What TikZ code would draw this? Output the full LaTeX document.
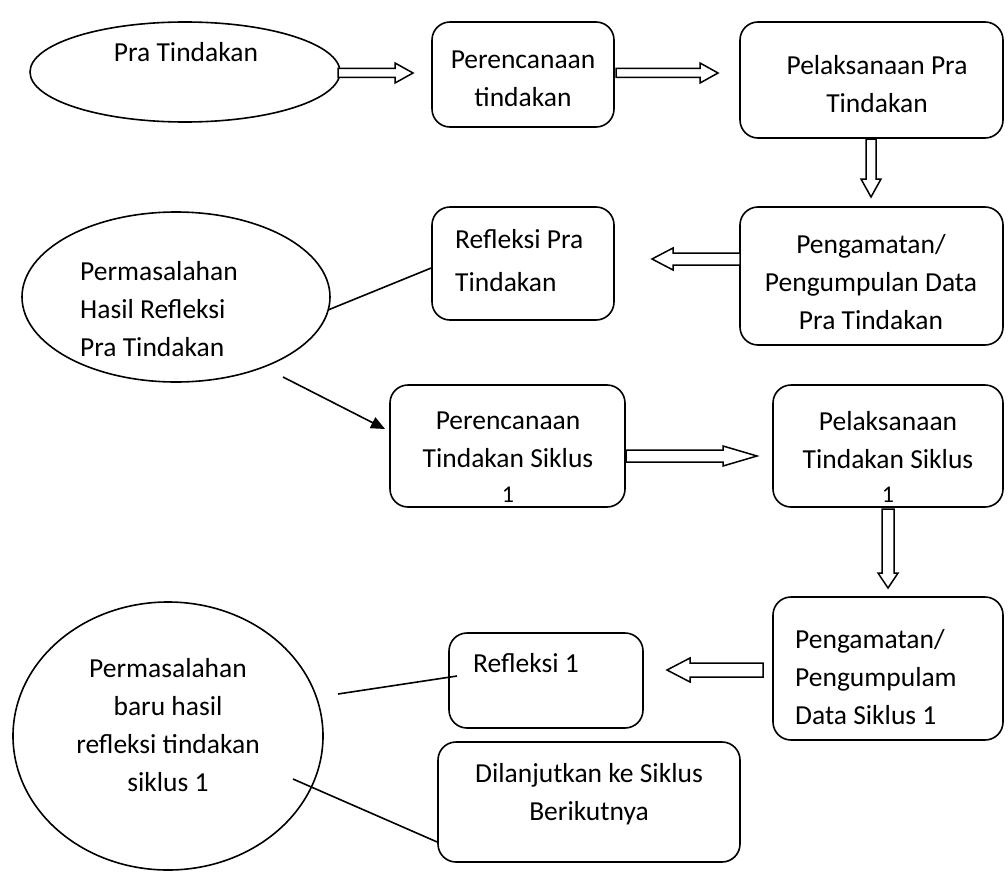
\documentclass[tikz,border=0pt]{standalone}
\usepackage{fontspec}
\setmainfont{Carlito}
\usetikzlibrary{shapes.geometric,arrows.meta,calc}
\newcommand\rarr[6]{% x1 x2 y shafthalf headhalf headlen  (rightwards)
  \draw[blk] (#1,#3-#4) -- (#2-#6,#3-#4) -- (#2-#6,#3-#5) -- (#2,#3) -- (#2-#6,#3+#5) -- (#2-#6,#3+#4) -- (#1,#3+#4) -- cycle;}
\newcommand\larr[6]{% x1(tail) x2(tip) y shafthalf headhalf headlen (leftwards)
  \draw[blk] (#1,#3-#4) -- (#2+#6,#3-#4) -- (#2+#6,#3-#5) -- (#2,#3) -- (#2+#6,#3+#5) -- (#2+#6,#3+#4) -- (#1,#3+#4) -- cycle;}
\newcommand\darr[6]{% y1 y2(tip) x shafthalf headhalf headlen (downwards)
  \draw[blk] (#3-#4,#1) -- (#3-#4,#2-#6) -- (#3-#5,#2-#6) -- (#3,#2) -- (#3+#5,#2-#6) -- (#3+#4,#2-#6) -- (#3+#4,#1) -- cycle;}
\begin{document}
\begin{tikzpicture}[x=1pt,y=-1pt,
  every node/.style={font=\fontsize{27.5}{38}\selectfont, inner sep=0pt},
  box/.style={draw, line width=1.6pt, rounded corners=18pt, rectangle},
  oval/.style={draw, line width=1.6pt, ellipse},
  txt/.style={align=center},
  ltxt/.style={align=left, anchor=west},
  blk/.style={line width=1.5pt, line join=miter, fill=white},
  conn/.style={line width=1.6pt},
  one/.style={font=\fontsize{24}{24}\selectfont, inner sep=0pt}]
\useasboundingbox (0,0) rectangle (1008,872);
% shapes
\node[oval, minimum width=310pt, minimum height=100pt] (e1) at (185,72) {};
\node[box, minimum width=182pt, minimum height=105pt] (b2) at (523,74.5) {};
\node[box, minimum width=263pt, minimum height=116pt] (b3) at (871.5,80) {};
\node[box, minimum width=263pt, minimum height=138pt] (b6) at (871.5,276) {};
\node[box, minimum width=182pt, minimum height=113pt] (b8) at (523,263.5) {};
\node[oval, minimum width=308pt, minimum height=170pt] (e9) at (176,297) {};
\node[box, minimum width=235pt, minimum height=122pt] (b12) at (507.5,446) {};
\node[box, minimum width=230pt, minimum height=122pt] (b14) at (888,446) {};
\node[box, minimum width=230pt, minimum height=143pt] (b16) at (888,668.5) {};
\node[box, minimum width=194pt, minimum height=95pt] (b18) at (546,680.5) {};
\node[oval, minimum width=310pt, minimum height=268pt] (e19) at (168,736) {};
\node[box, minimum width=302pt, minimum height=120pt] (b21) at (589,802) {};
% texts
\node[txt] (t1) at (186,52) {Pra Tindakan};
\node[txt] (t2) at (523,79) {Perencanaan\\tindakan};
\node[txt] (t3) at (877,84) {Pelaksanaan Pra\\Tindakan};
\node[txt] (t6) at (871,282) {Pengamatan/\\Pengumpulan Data\\Pra Tindakan};
\node[ltxt] (t8) at (455,261) {Refleksi Pra\\[5pt]Tindakan};
\node[ltxt] (t9) at (80,309) {Permasalahan\\Hasil Refleksi\\Pra Tindakan};
\node[txt] (t12) at (508,440) {Perencanaan\\Tindakan Siklus};
\node[one] (t12b) at (508,495) {1};
\node[txt] (t14) at (888,440) {Pelaksanaan\\Tindakan Siklus};
\node[one] (t14b) at (888,495) {1};
\node[ltxt] (t16) at (795,677) {Pengamatan/\\Pengumpulam\\Data Siklus 1};
\node[ltxt] (t18) at (473,663) {Refleksi 1};
\node[txt] (t19) at (168,725) {Permasalahan\\baru hasil\\refleksi tindakan\\siklus 1};
\node[txt] (t21) at (589,794) {Dilanjutkan ke Siklus\\Berikutnya};
% block arrows
\rarr{338}{413}{73}{4.5}{10}{18}
\rarr{616}{718}{73}{4.5}{10}{18}
\darr{139}{197}{871}{5}{10}{18}
\larr{740}{652}{259}{6}{11}{21}
\rarr{626}{757}{456}{6}{10}{34}
\darr{509}{588}{888}{6}{10}{15}
\larr{763}{667}{670}{7}{12}{23}
% plain connectors
\coordinate (c10a) at (328,310);
\coordinate (c10b) at (b8.west |- 0,268);
\draw[conn] (c10a) -- (c10b);
\coordinate (c11a) at (283,377);
\coordinate (c11b) at (385,429);
\draw[conn, -{Triangle[length=14pt,width=12pt]}] (c11a) -- (c11b);
\coordinate (c20a) at (338,694);
\coordinate (c20b) at (457,676);
\draw[conn] (c20a) -- (c20b);
\coordinate (c22a) at (293,779);
\coordinate (c22b) at (b21.west |- 0,842);
\draw[conn] (c22a) -- (c22b);
\end{tikzpicture}
\end{document}
